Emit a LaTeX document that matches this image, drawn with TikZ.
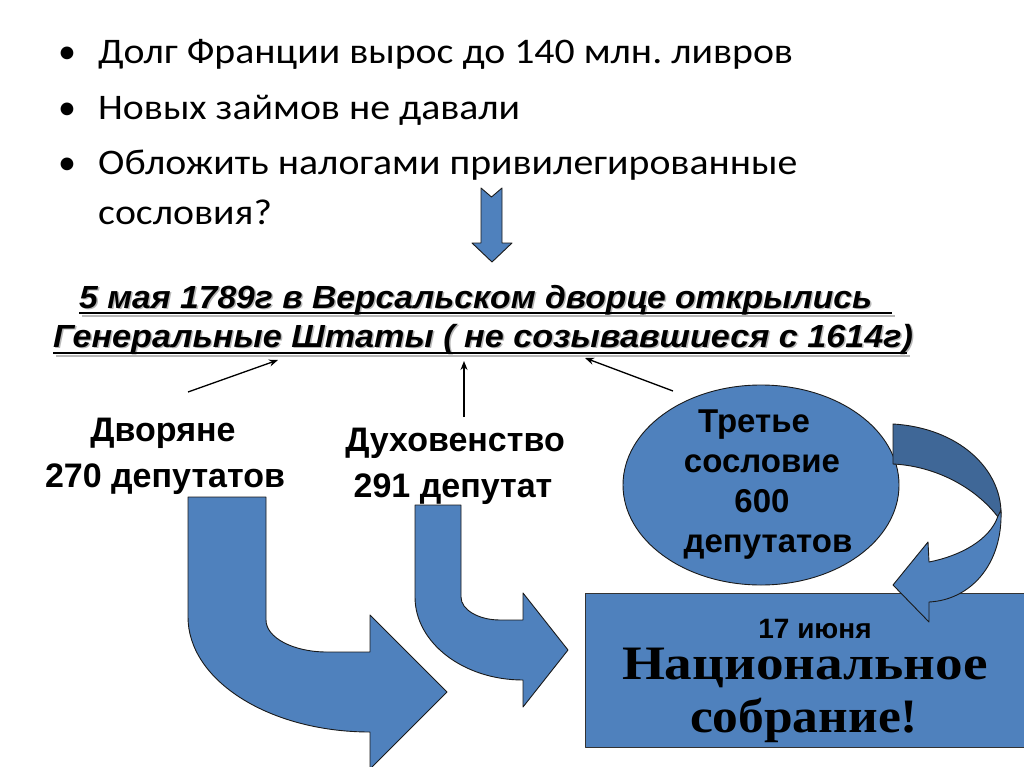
\documentclass[tikz,border=0pt]{standalone}
\usepackage{fontspec}
\usepackage{graphicx}
\setmainfont{Carlito}
\newfontfamily\bulletfont{Carlito}[FakeStretch=1.105]
\newfontfamily\arialf{Liberation Sans}
\newfontfamily\timesf{Liberation Serif}
\usetikzlibrary{arrows.meta,shapes.geometric}
\definecolor{blockblue}{HTML}{4F81BD}
\definecolor{blockdark}{HTML}{3F6797}
\definecolor{edgecol}{HTML}{1A1A1A}
\newcommand\myTitleA{5 мая 1789г в Версальском дворце открылись}
\newcommand\myTitleB{Генеральные Штаты ( не созывавшиеся с 1614г)}
\frenchspacing
\begin{document}
\begin{tikzpicture}[x=1pt,y=-1pt,
  bullettext/.style={anchor=base west, inner sep=0pt, font=\bulletfont\fontsize{36}{42}\selectfont},
  bulletmark/.style={anchor=base, inner sep=0pt, font=\fontsize{36}{42}\selectfont},
  titletext/.style={anchor=base west, inner sep=0pt, font=\arialf\bfseries\itshape\fontsize{32}{36}\selectfont},
  uline/.style={line width=2.6pt},
  labeltext/.style={anchor=base, inner sep=0pt, font=\arialf\bfseries\fontsize{34}{40}\selectfont},
  ovaltext/.style={anchor=base, inner sep=0pt, font=\arialf\bfseries\fontsize{33}{40}\selectfont},
  thinarrow/.style={line width=1.3pt, -{Stealth[length=9pt,width=7pt]}},
  blockshape/.style={fill=blockblue, draw=edgecol, line width=0.9pt, line join=round},
  darkshape/.style={fill=blockdark, draw=edgecol, line width=0.9pt, line join=round}]
\useasboundingbox (0,0) rectangle (1024,767);
\fill[white] (0,0) rectangle (1024,767);

% bullets
\node[bulletmark] (m1) at (67,64) {•};
\node[bulletmark] (m2) at (67,120) {•};
\node[bulletmark] (m3) at (67,175) {•};
\node[bullettext] (b1) at (98,64) {Долг Франции вырос до 140 млн. ливров};
\node[bullettext] (b2) at (98,120) {Новых займов не давали};
\node[bullettext] (b3) at (98,175) {Обложить налогами привилегированные};
\node[bullettext] (b4) at (98,225) {сословия?};

% down block arrow
\draw[blockshape] (481,188) -- (491.5,197) -- (502,188) -- (502,243) -- (512,243)
  -- (492,262) -- (472,243) -- (481,243) -- cycle;

% title with shadow
\node[titletext, text=black!28] (t1s) at (80.5,309.5) {\resizebox{793pt}{\height}{\myTitleA}};
\node[titletext, text=black!28] (t2s) at (54.5,348.5) {\resizebox{860pt}{\height}{\myTitleB}};
\draw[uline, black!28] ([xshift=1.5pt,yshift=-6.5pt]t1s.base west) -- ([xshift=21.5pt,yshift=-6.5pt]t1s.base east);
\draw[uline, black!28] ([xshift=1.5pt,yshift=-7.5pt]t2s.base west) -- ([xshift=-4.5pt,yshift=-7.5pt]t2s.base east);
\node[titletext] (t1) at (79,308) {\resizebox{793pt}{\height}{\myTitleA}};
\node[titletext] (t2) at (53,347) {\resizebox{860pt}{\height}{\myTitleB}};
\draw[uline] ([yshift=-5pt]t1.base west) -- ([xshift=20pt,yshift=-5pt]t1.base east);
\draw[uline] ([yshift=-6pt]t2.base west) -- ([xshift=-6pt,yshift=-6pt]t2.base east);

% labels
\node[labeltext] (dv1) at (163,441) {Дворяне};
\node[labeltext] (dv2) at (165,487) {270 депутатов};
\node[labeltext] (dh1) at (455,451) {Духовенство};
\node[labeltext] (dh2) at (453,497) {291 депутат};

% ellipse
\node[blockshape, ellipse, minimum width=276pt, minimum height=200pt, inner sep=0pt] (third) at (761,485) {};
\node[ovaltext] (th1) at (754,432) {Третье};
\node[ovaltext] (th2) at (762,472) {сословие};
\node[ovaltext] (th3) at (762,512) {600};
\node[ovaltext] (th4) at (768,552) {депутатов};

% thin arrows to title
\coordinate (a1s) at (188,392);
\coordinate (a1e) at (278,360);
\coordinate (a2s) at (464,417);
\coordinate (a2e) at (464,361);
\coordinate (a3s) at (673,391);
\coordinate (a3e) at (585,358);
\draw[thinarrow] (a1s) -- (a1e);
\draw[thinarrow] (a2s) -- (a2e);
\draw[thinarrow] (a3s) -- (a3e);

% national assembly box
\node[blockshape, draw=black!80, rectangle, anchor=north west, minimum width=445pt, minimum height=154pt, inner sep=0pt] (nat) at (585,593) {};
\node[anchor=base, inner sep=0pt, font=\arialf\bfseries\fontsize{28}{32}\selectfont] (date) at (815,638) {17 июня};
\node[anchor=base, inner sep=0pt, font=\timesf\bfseries\fontsize{48}{56}\selectfont] (nat1) at (805,679) {\resizebox{366pt}{\height}{Национальное}};
\node[anchor=base, inner sep=0pt, font=\timesf\bfseries\fontsize{48}{56}\selectfont] (nat2) at (804,732) {\resizebox{228pt}{\height}{собрание!}};

% bent arrow 1
\draw[blockshape] (188,497) -- (266,497) -- (266,620)
  .. controls (266,637.7) and (293.3,652) .. (327,652) -- (370,652) -- (370,615)
  -- (447,692) -- (370,769) -- (370,732)
  .. controls (269.5,732) and (188,680.5) .. (188,617) -- cycle;

% bent arrow 2
\draw[blockshape] (415,505) -- (461,505) -- (461,597)
  .. controls (461,609.7) and (478.5,620) .. (500,620) -- (523,620) -- (523,593)
  -- (568,650) -- (523,707) -- (523,680)
  .. controls (463.4,680) and (415,642.8) .. (415,597) -- cycle;

% curved arrow on the right
\draw[darkshape] (893,424) .. controls (960,428) and (1001,470) .. (1001,513)
  -- (998,517) .. controls (975,487) and (935,466) .. (893,464) -- cycle;
\draw[blockshape] (1001,510) .. controls (1003,565) and (970,600) .. (929,602)
  -- (929,622) -- (893,585) -- (928,542) -- (929,562)
  .. controls (960,556) and (990,540) .. (998,516) -- cycle;
\end{tikzpicture}
\end{document}
